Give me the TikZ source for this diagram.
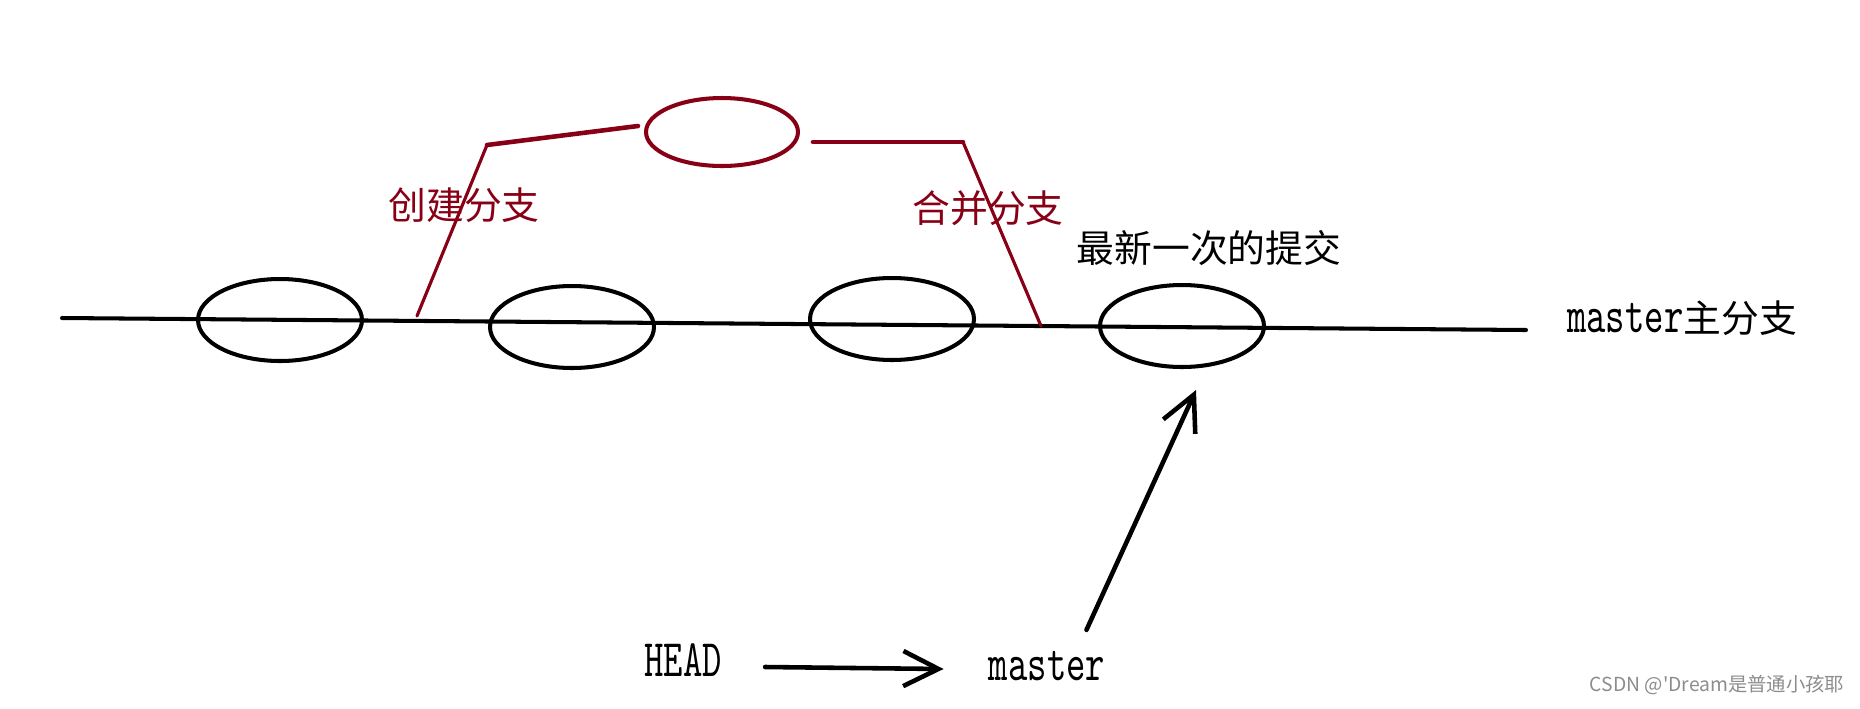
\documentclass[tikz,border=0pt]{standalone}
\usepackage{fontspec}
\usetikzlibrary{shapes.geometric,arrows.meta}

\newfontfamily\cjkfont{Noto Sans CJK SC}
\newfontfamily\latinfont[FakeStretch=0.7]{lmmono10-regular.otf}
\definecolor{branchred}{RGB}{136,0,21}

\newcommand{\cjksize}{\fontsize{21.5}{26}\selectfont}
\newcommand{\latinsize}{\fontsize{30}{34}\selectfont}

\begin{document}
\begin{tikzpicture}[x=0.02cm, y=-0.02cm, line cap=round, line join=round,
    >={Straight Barb[length=20pt, width=20pt]},
    commit/.style={ellipse, draw, line width=2.3pt, minimum width=3.28cm, minimum height=1.64cm, inner sep=0pt},
    branch/.style={draw=branchred, line width=1.8pt},
    note/.style={inner sep=0pt, font=\cjkfont\cjksize},
    pointer/.style={->, line width=2.6pt}]
    % Page frame
    \useasboundingbox (0,0) rectangle (1860,708);

    % Main branch line
    \coordinate (start) at (62,318);
    \coordinate (end) at (1526,330);
    \draw[line width=2.3pt] (start) -- (end);

    % Commits on master
    \node[commit] (c1) at (280,320) {};
    \node[commit] (c2) at (572,327) {};
    \node[commit] (c3) at (892,319) {};
    \node[commit] (c4) at (1182,326) {};

    % Commit on the side branch
    \node[commit, draw=branchred, minimum width=3.04cm, minimum height=1.36cm] (b1) at (722,132) {};

    % Fork and merge
    \coordinate (fork) at (417,316);
    \coordinate (forktop) at (487,145);
    \coordinate (mergetop) at (963,142);
    \coordinate (merge) at (1041,326);
    \draw[branch] (fork) -- (forktop);
    \draw[branch, line width=2.6pt] (forktop) -- ([shift={(-6,-6)}]b1.west);
    \draw[branch, line width=2.6pt] ([shift={(13,10)}]b1.east) -- (mergetop);
    \draw[branch] (mergetop) -- (merge);

    % Labels
    \node[note, text=branchred] (create) at (464,205) {创建分支};
    \node[note, text=branchred] (join) at (988,208) {合并分支};
    \node[note] (latest) at (1209,248) {最新一次的提交};
    \node[note] (mainname) at (1682,318) {{\latinfont\latinsize master}主分支};

    % HEAD points to master
    \node[inner sep=0pt, font=\latinfont\latinsize] (head) at (683,660) {HEAD};
    \node[inner sep=0pt, font=\latinfont\latinsize] (ptr) at (1047,666) {master};
    \draw[pointer] ([shift={(43,7)}]head.east) -- ([shift={(-45,3)}]ptr.west);
    \draw[pointer] ([shift={(-19,-21)}]ptr.north east) -- ([shift={(14,21)}]c4.south);

    % Watermark
    \node[inner sep=0pt, text=black!45, font=\cjkfont\fontsize{11}{13}\selectfont] (mark) at (1717,685) {CSDN @'Dream是普通小孩耶};
\end{tikzpicture}
\end{document}
